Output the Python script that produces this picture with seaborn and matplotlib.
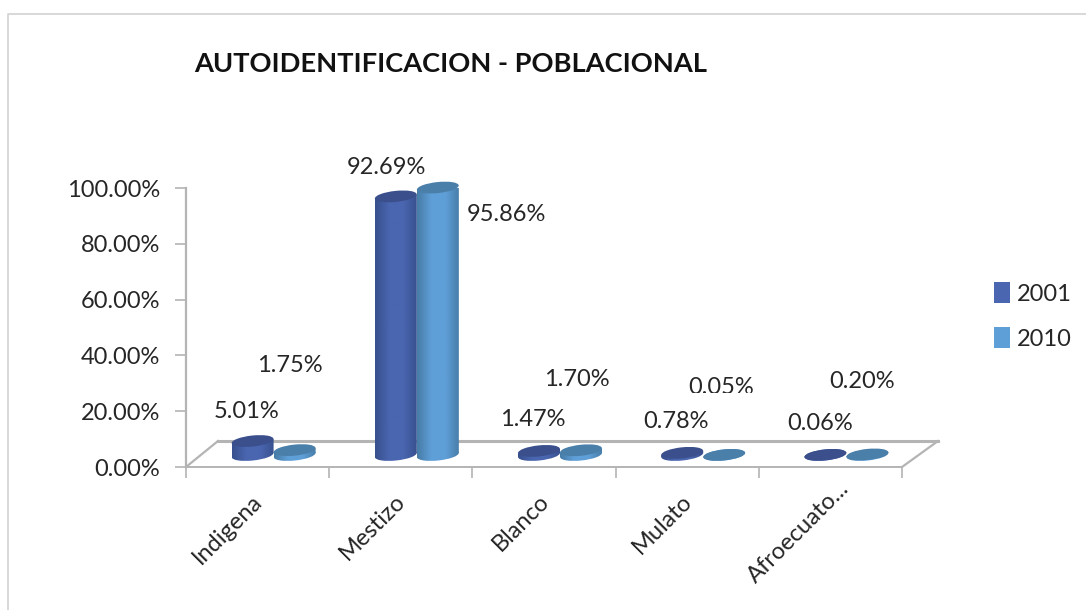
import numpy as np
import pandas as pd
import seaborn as sns
import matplotlib.pyplot as plt
from matplotlib.lines import Line2D
from matplotlib.patches import Ellipse, Polygon, Rectangle
from matplotlib.transforms import Bbox, IdentityTransform, ScaledTranslation

categories = ["Indigena", "Mestizo", "Blanco", "Mulato", "Afroecuato..."]
years = ["2001", "2010"]
values_2001 = [5.01, 92.69, 1.47, 0.78, 0.06]
values_2010 = [1.75, 95.86, 1.70, 0.05, 0.20]
yticks = [0, 20, 40, 60, 80, 100]
title = "AUTOIDENTIFICACION - POBLACIONAL"

W, H = 1086, 610
FONT = "Lato"
plt.rcParams["font.family"] = [FONT, "DejaVu Sans"]
TXT = "#262626"
GREY = "#b4b4b4"
FS = 17
colors = {"2001": "#4a66b0", "2010": "#5f9fd8"}
edge = {"2001": "#38508e", "2010": "#477da8"}
cap = {"2001": "#3a4f8c", "2010": "#4a7fa9"}

# the 3D floor lifts bars above the axis zero and pushes them to the right
LIFT = 4.3
SHIFT = 16
TILT = 6
SLOPE = 2  # how far the tilted ellipse ends sit off its centre, px


def py(y):
    return H - y


def shade(ax, x0, x1, y0, y1, year, clip):
    grad = sns.blend_palette([edge[year], colors[year], colors[year], edge[year]], 32)
    img = ax.imshow(np.array(grad)[None, :, :], extent=[x0, x1, y0, y1], aspect="auto",
                    zorder=3, transform=IdentityTransform(), interpolation="bilinear")
    img.set_clip_path(clip)


df = pd.DataFrame({
    "cat": categories * 2,
    "year": [years[0]] * 5 + [years[1]] * 5,
    "val": values_2001 + values_2010,
})

fig = plt.figure(figsize=(W / 100, H / 100), dpi=100)
ax = fig.add_axes([186 / W, py(467) / H, (902 - 186) / W, (467 - 188) / H])
sns.barplot(data=df, x="cat", y="val", hue="year", palette=colors, width=0.587,
            ax=ax, saturation=1, linewidth=0, errorbar=None)
ax.set_xlim(-0.5, 4.5)
ax.set_ylim(0, 100)
ax.set_xlabel("")
ax.set_ylabel("")
for s in ["top", "right", "bottom"]:
    ax.spines[s].set_visible(False)
ax.spines["left"].set_color(GREY)
ax.spines["left"].set_linewidth(1.6)
ax.set_facecolor("none")

ax.set_yticks(yticks)
ax.set_yticklabels([f"{v:.2f}%" for v in yticks], fontsize=FS, color=TXT)
ax.tick_params(axis="y", length=8, width=1.2, color=GREY, pad=10.5)

ax.set_xticks(np.arange(6) - 0.5)
ax.set_xticklabels([])
ax.tick_params(axis="x", which="major", length=8, width=1.2, color=GREY)
ax.set_xticks(np.arange(5), minor=True)
ax.set_xticklabels(categories, minor=True, rotation=45, ha="right", va="top",
                   rotation_mode="anchor", fontsize=FS, color=TXT)
ax.tick_params(axis="x", which="minor", length=0, pad=17)
for lab in ax.get_xticklabels(minor=True):
    # the long label runs further up and right than the others
    dx, dy = (8, 13) if lab.get_text().endswith("...") else (-6, 0)
    lab.set_transform(lab.get_transform() + ScaledTranslation(dx / 100, dy / 100, fig.dpi_scale_trans))

# floor of the 3D box
for xs, ys, lw in [([186, 902], [467, 467], 1.4), ([186, 218], [467, 441], 1.6),
                   ([218, 938], [441, 441], 2.2), ([938, 902], [441, 467], 1.6)]:
    ax.add_line(Line2D(xs, [py(y) for y in ys], color=GREY, lw=lw, transform=IdentityTransform(),
                       clip_on=False, zorder=1))

fig.canvas.draw()
bars = [p for p in ax.patches if isinstance(p, Rectangle)][:10]
keys = [years[0]] * 5 + [years[1]] * 5
order = sorted(range(10), key=lambda i: (bars[i].get_x(), i))
for i in order:
    b = bars[i]
    year = keys[i]
    b.set_visible(False)
    x0, y0 = ax.transData.transform((b.get_x(), LIFT))
    x1, y1 = ax.transData.transform((b.get_x() + b.get_width(), LIFT + b.get_height()))
    x0 += SHIFT
    x1 += SHIFT
    cx = (x0 + x1) / 2
    w = x1 - x0
    bottom = Ellipse((cx, y0), w, 11, angle=TILT, transform=IdentityTransform(), fc="none", ec="none", zorder=3)
    ax.add_patch(bottom)
    shade(ax, x0, x1, y0 - 9, y0 + 9, year, bottom)
    body = Polygon([(x0, y0 - SLOPE), (x1, y0 + SLOPE), (x1, y1 + SLOPE), (x0, y1 - SLOPE)],
                   transform=IdentityTransform(), fc="none", ec="none", zorder=3)
    ax.add_patch(body)
    shade(ax, x0, x1, y0 - SLOPE, y1 + SLOPE, year, body)
    ax.add_patch(Ellipse((cx, y1), w, 11, angle=TILT, transform=IdentityTransform(),
                         fc=cap[year], ec="none", zorder=3.5, clip_on=False))
ax.set_xlim(-0.5, 4.5)
ax.set_ylim(0, 100)
ax.set_aspect("auto")

# data labels sit where the original put them by hand
label_text = [f"{v:.2f}%" for v in values_2001 + values_2010]
label_px = [(247, 412), (386, 167), (533, 420), (676, 422), (820, 423),
            (290, 366), (506, 215), (577, 379), (721, 387), (862, 381)]
for t, (x, y) in zip(label_text, label_px):
    lab = fig.text(x / W, py(y) / H, t, ha="center", va="center", fontsize=FS, color=TXT)
    if t == "0.05%":
        # this one is cut off along its lower edge in the original
        lab.set_clip_box(Bbox([[0, py(393)], [W, H]]))
        lab.set_clip_on(True)

fig.text(194 / W, py(64) / H, title, ha="left", va="center", fontsize=19.6, fontweight="bold", color="#111111")

handles = [Rectangle((0, 0), 1, 1, fc=colors[y], ec="none") for y in years]
fig.legend(handles, years, loc="center left", bbox_to_anchor=(994 / W, py(316) / H), frameon=False,
           fontsize=FS, handlelength=0.66, handleheight=0.95, handletextpad=0.3,
           labelspacing=0.95, labelcolor=TXT, borderpad=0, borderaxespad=0)
leg = ax.get_legend()
if leg:
    leg.remove()

# outer chart frame, open to the right and below
fig.add_artist(Line2D([8 / W, 8 / W, 1], [0, py(14) / H, py(14) / H], color="#d2d2d2", lw=1.2))

fig.savefig("out.png", dpi=100)
